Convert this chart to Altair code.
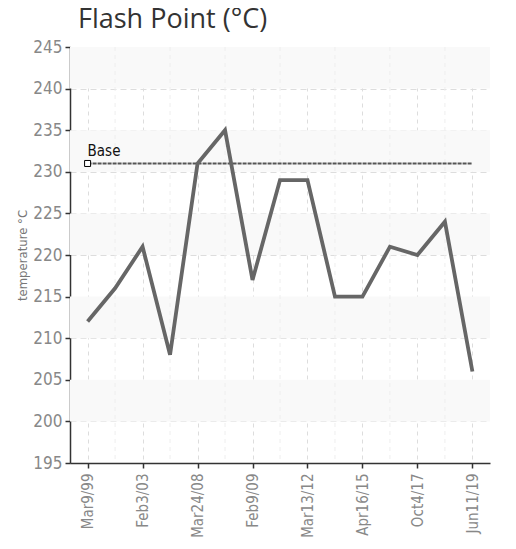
import altair as alt
import pandas as pd

# ---- data ----
samples = ["Mar9/99", "s2", "Feb3/03", "s4", "Mar24/08", "s6", "Feb9/09", "s8",
           "Mar13/12", "s10", "Apr16/15", "s12", "Oct4/17", "s14", "Jun11/19"]
labeled = ["Mar9/99", "Feb3/03", "Mar24/08", "Feb9/09", "Mar13/12",
           "Apr16/15", "Oct4/17", "Jun11/19"]
flash_point = [212, 216, 221, 208, 231, 235, 217, 229, 229, 215, 215, 221, 220, 224, 206]
base_value = 231
base_label = "Base"
band_lo = [200, 210, 220, 230, 240]
band_hi = [205, 215, 225, 235, 245]
y_ticks = [195, 200, 205, 210, 215, 220, 225, 230, 235, 240, 245]

FONT = "DejaVu Sans Condensed"

df = pd.DataFrame({"sample": samples, "temp": flash_point})
bands = pd.DataFrame({"lo": band_lo, "hi": band_hi})
minor = pd.DataFrame({"sample": [s for s in samples if s not in labeled]})
base = pd.DataFrame({"sample": [samples[0]], "end": [samples[-1]],
                     "temp": [base_value], "label": [base_label]})

x_scale = alt.Scale(type="point", domain=samples, padding=0.64)
y_scale = alt.Scale(domain=[195, 245], nice=False, zero=False)

x_axis = alt.Axis(values=labeled, labelAngle=-90, title=None, grid=True,
                  gridDash=[4, 4], gridColor="#dddddd", domainColor="#333333",
                  domainWidth=1.5, tickColor="#333333", tickSize=5, tickWidth=1.5,
                  labelColor="#888888", labelFont=FONT, labelFontSize=15,
                  labelPadding=5, labelAlign="right", labelBaseline="middle")
y_axis = alt.Axis(values=y_ticks, title="temperature °C", grid=True,
                  gridDash=[6, 4], gridColor="#dddddd", domainColor="#333333",
                  domainWidth=1.5, tickColor="#333333", tickSize=5, tickWidth=1.5,
                  labelColor="#888888", labelFont=FONT, labelFontSize=17,
                  labelPadding=3, titleColor="#777777", titleFont=FONT,
                  titleFontSize=13, titleFontWeight="normal", titlePadding=3)

X = alt.X("sample:N", scale=x_scale, axis=x_axis, sort=samples)
Y = alt.Y("temp:Q", scale=y_scale, axis=y_axis)

band_layer = alt.Chart(bands).mark_rect(color="#f9f9f9").encode(
    x=alt.value(0), x2=alt.value("width"),
    y=alt.Y("lo:Q", scale=y_scale, axis=y_axis), y2="hi:Q")

minor_grid = alt.Chart(minor).mark_rule(color="#eeeeee", strokeDash=[4, 4]).encode(
    x=X, y=alt.value(0), y2=alt.value("height"))

base_rule = alt.Chart(base).mark_rule(color="#555555", strokeWidth=2,
                                      strokeDash=[4, 1]).encode(
    x=X, x2="end:N", y=Y)

line = alt.Chart(df).mark_line(color="#666666", strokeWidth=3.8,
                               strokeJoin="miter").encode(x=X, y=Y)

marker = alt.Chart(base).mark_square(size=36, filled=False, color="#000000",
                                     fill="#ffffff", fillOpacity=1,
                                     strokeWidth=1, opacity=1).encode(x=X, y=Y)

text = alt.Chart(base).mark_text(align="left", baseline="bottom", dx=0, dy=-4,
                                 font=FONT, fontSize=15, color="#111111").encode(
    x=X, y=Y, text="label:N")

chart = alt.layer(band_layer, minor_grid, base_rule, line, marker, text).properties(
    width=420, height=416,
    title=alt.TitleParams("Flash Point (°C)", anchor="start", frame="group",
                          dx=8, dy=6, offset=10, font="Open Sans", fontSize=27,
                          fontWeight="normal", color="#333333"),
    autosize=alt.AutoSizeParams(type="none"),
    padding={"left": 62, "top": 39, "right": 18, "bottom": 86},
    background="#ffffff",
).configure_view(stroke=None)

chart.save("out.html", embed_options={"renderer": "svg", "actions": False})
